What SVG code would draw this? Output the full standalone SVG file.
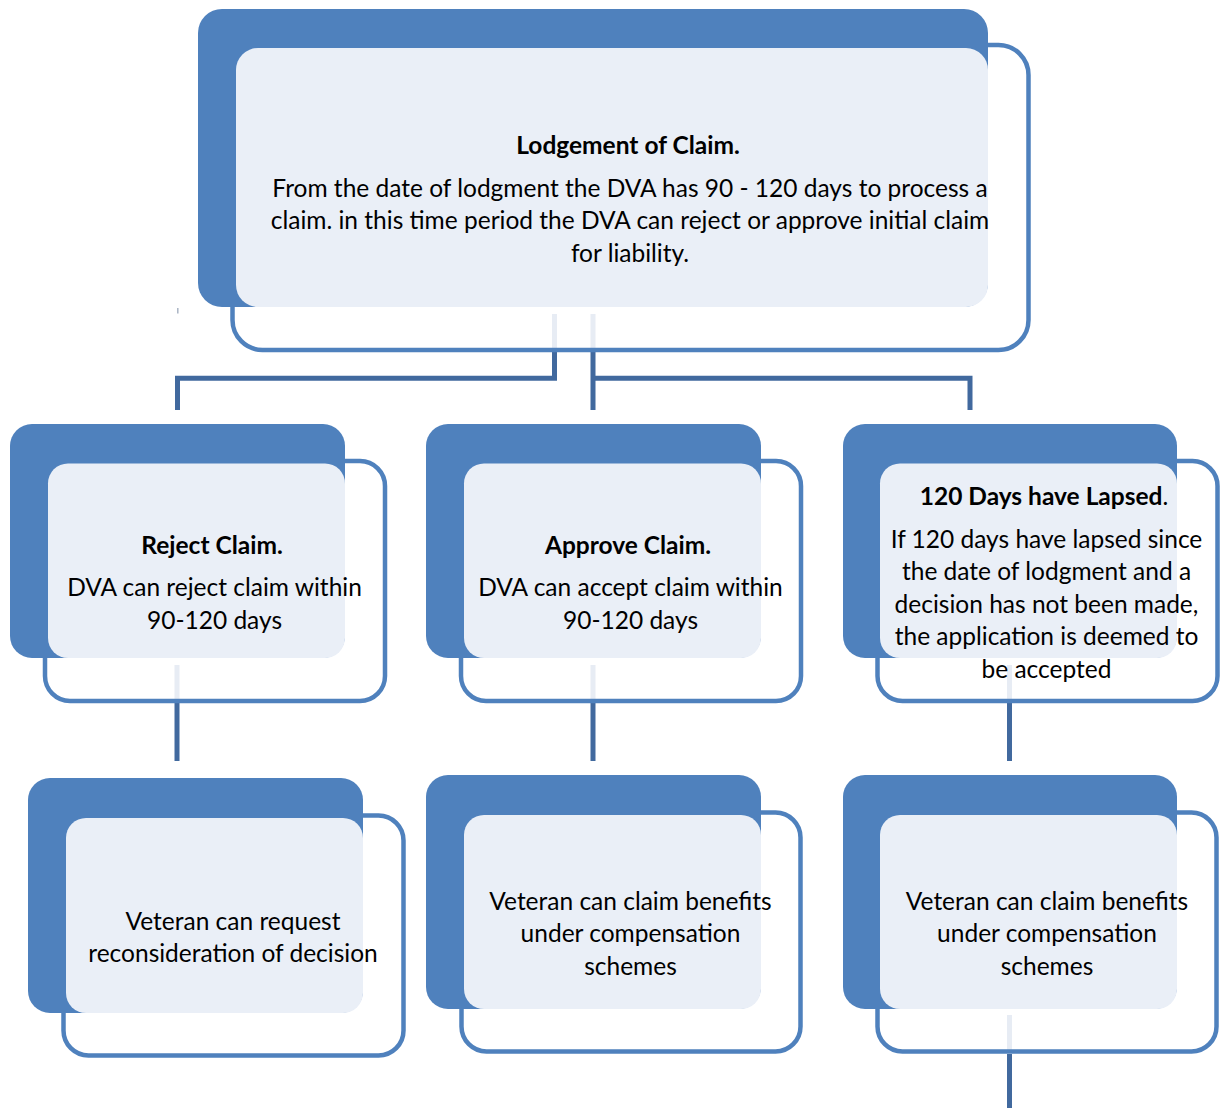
<svg xmlns="http://www.w3.org/2000/svg" width="1220" height="1108" viewBox="0 0 1220 1108">
<style>
.back{fill:#4F81BD}
.outline{fill:none;stroke:#4F81BD;stroke-width:4.5}
.panel{fill:#EAEFF7}
.conn{fill:none;stroke:#41699E;stroke-width:5}
.stub{fill:none;stroke:#E7ECF4;stroke-width:5}
text{font-family:Lato,"Liberation Sans",sans-serif;font-size:24.5px;fill:#000;text-anchor:middle}
.b{font-weight:bold}
</style>
<rect width="1220" height="1108" fill="#FFFFFF"/>
<g id="connectors">
<path class="stub" d="M554.5 314V348M593 314V348M177 665V699M593 665V699M1009.5 665V699M1009.5 1015V1050"/>
<path d="M177.8 308V313.5" stroke="#A9B4C4" stroke-width="1.5" fill="none"/>
<path class="conn" d="M554.5 352V378.3H177.5V410"/>
<path class="conn" d="M593 352V410M593 378.3H970V410"/>
<path class="conn" d="M177 703V761"/>
<path class="conn" d="M593 703V761"/>
<path class="conn" d="M1009.5 703V761"/>
<path class="conn" d="M1009.5 1054V1108"/>
</g>
<g id="node-lodgement">
<rect class="outline" x="232.5" y="45" width="796" height="305" rx="30"/>
<rect class="back" x="198" y="9" width="790" height="298" rx="24"/>
<rect class="panel" x="236" y="48" width="752" height="259" rx="22"/>
<text class="b" x="628" y="154">Lodgement of Claim.</text>
<text x="630" y="197">From the date of lodgment the DVA has 90 - 120 days to process a</text>
<text x="630" y="229">claim. in this time period the DVA can reject or approve initial claim</text>
<text x="630" y="262">for liability.</text>
</g>
<g id="node-reject">
<rect class="outline" x="45" y="461" width="340" height="240" rx="25"/>
<rect class="back" x="10" y="424" width="335" height="234" rx="22"/>
<rect class="panel" x="48" y="463.5" width="297" height="194.5" rx="20"/>
<text class="b" x="212" y="554">Reject Claim.</text>
<text x="214.5" y="596">DVA can reject claim within</text>
<text x="214.5" y="629">90-120 days</text>
</g>
<g id="node-approve">
<rect class="outline" x="461" y="461" width="340" height="240" rx="25"/>
<rect class="back" x="426" y="424" width="335" height="234" rx="22"/>
<rect class="panel" x="464" y="463.5" width="297" height="194.5" rx="20"/>
<text class="b" x="628" y="554">Approve Claim.</text>
<text x="630.5" y="596">DVA can accept claim within</text>
<text x="630.5" y="629">90-120 days</text>
</g>
<g id="node-lapsed">
<rect class="outline" x="877.5" y="461" width="340" height="240" rx="25"/>
<rect class="back" x="843" y="424" width="334" height="234" rx="22"/>
<rect class="panel" x="880" y="463.5" width="297" height="194.5" rx="20"/>
<text x="1044" y="505"><tspan class="b">120 Days have Lapsed</tspan>.</text>
<text x="1046.5" y="548">If 120 days have lapsed since</text>
<text x="1046.5" y="580">the date of lodgment and a</text>
<text x="1046.5" y="613">decision has not been made,</text>
<text x="1046.5" y="645">the application is deemed to</text>
<text x="1046.5" y="678">be accepted</text>
</g>
<g id="node-reconsider">
<rect class="outline" x="63.5" y="815.5" width="340" height="240" rx="25"/>
<rect class="back" x="28" y="778" width="335" height="235" rx="22"/>
<rect class="panel" x="66" y="818" width="297" height="195" rx="20"/>
<text x="233" y="930">Veteran can request</text>
<text x="233" y="962">reconsideration of decision</text>
</g>
<g id="node-benefits-approve">
<rect class="outline" x="461.5" y="812.5" width="339" height="239" rx="25"/>
<rect class="back" x="426" y="775" width="335" height="234" rx="22"/>
<rect class="panel" x="464" y="815" width="297" height="194" rx="20"/>
<text x="630.5" y="910">Veteran can claim benefits</text>
<text x="630.5" y="942">under compensation</text>
<text x="630.5" y="975">schemes</text>
</g>
<g id="node-benefits-lapsed">
<rect class="outline" x="877.5" y="812.5" width="339" height="239" rx="25"/>
<rect class="back" x="843" y="775" width="334" height="234" rx="22"/>
<rect class="panel" x="880" y="815" width="297" height="194" rx="20"/>
<text x="1047" y="910">Veteran can claim benefits</text>
<text x="1047" y="942">under compensation</text>
<text x="1047" y="975">schemes</text>
</g>
</svg>
